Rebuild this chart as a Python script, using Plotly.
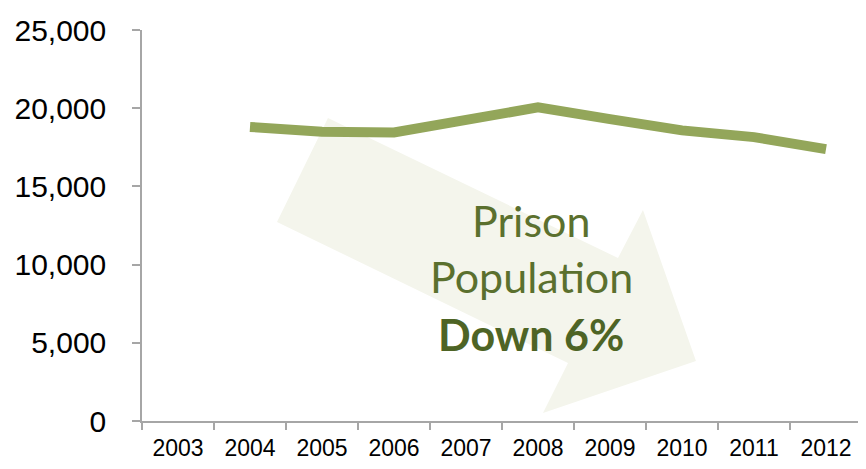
import plotly.graph_objects as go

years = ["2003", "2004", "2005", "2006", "2007", "2008", "2009", "2010", "2011", "2012"]
population = [None, 18800, 18500, 18450, 19250, 20050, 19300, 18580, 18150, 17380]
y_ticks = [0, 5000, 10000, 15000, 20000, 25000]

# page offset from the default body margin
OFF = 8
W, H = 866 - OFF, 469 - OFF
L, R, T, B = 142 - OFF, 4, 30 - OFF, 48
pw, ph = W - L - R, H - T - B

def px(x, y):
    # page pixel -> paper coords
    x -= OFF
    y -= OFF
    return (x - L) / pw, (H - B - y) / ph

arrow_px = [(328, 118), (618, 258), (643, 210), (696, 361), (543, 413), (568, 363), (277, 222)]
path = "M " + " L ".join(f"{px(x, y)[0]:.4f},{px(x, y)[1]:.4f}" for x, y in arrow_px) + " Z"

fig = go.Figure()
fig.add_trace(go.Scatter(
    x=years, y=population, mode="lines",
    line=dict(color="#93a65a", width=10),
    connectgaps=False, hoverinfo="skip", showlegend=False,
))

fig.add_shape(type="path", path=path, xref="paper", yref="paper",
              fillcolor="#f4f5ec", line=dict(width=0), layer="below")

txt_color = "#5b702e"
for label, y, bold in [("Prison", 238, False), ("Population", 294, False), ("<b>Down 6%</b>", 352, True)]:
    xx, yy = px(531, y)
    fig.add_annotation(x=xx, y=yy, xref="paper", yref="paper", text=label,
                       showarrow=False, xanchor="center", yanchor="bottom", yshift=-10,
                       font=dict(family="Lato", size=43, color="#4e6425" if bold else txt_color))

fig.update_layout(
    width=W, height=H,
    margin=dict(l=L, r=R, t=T, b=B),
    plot_bgcolor="white", paper_bgcolor="white",
    xaxis=dict(
        type="category", categoryorder="array", categoryarray=years,
        range=[-0.5, 9.5], showgrid=False, zeroline=False,
        showline=True, linecolor="#a6a6a6", linewidth=1.5,
        ticks="outside", tickson="boundaries", ticklen=7, tickcolor="#a6a6a6", tickwidth=1.5,
        ticklabelstandoff=6,
        tickfont=dict(family="Liberation Sans, Arial", size=23, color="black"),
    ),
    yaxis=dict(
        range=[0, 25000], tickvals=y_ticks, tickformat=",",
        showgrid=False, zeroline=False,
        showline=True, linecolor="#a6a6a6", linewidth=1.5,
        ticks="outside", ticklen=8, tickcolor="#a6a6a6", tickwidth=1.5,
        ticklabelstandoff=20,
        tickfont=dict(family="Liberation Sans, Arial", size=30, color="black"),
    ),
)

fig.write_html("out.html")
